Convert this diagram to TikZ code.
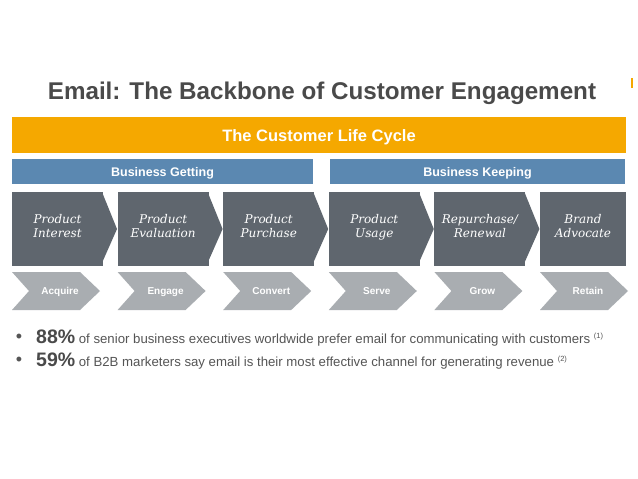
\documentclass[tikz,border=0pt]{standalone}
\usepackage{fontspec}
\setmainfont{Liberation Sans}
\newfontfamily\boxfont{DejaVu Serif}
\definecolor{cOrange}{HTML}{F5A800}
\definecolor{cBlue}{HTML}{5B88B1}
\definecolor{cDark}{HTML}{5F666E}
\definecolor{cChev}{HTML}{A9ADB1}
\definecolor{cTitle}{HTML}{4A4A4A}
\definecolor{cText}{HTML}{555555}
\tikzset{
  band/.style={fill=#1, inner sep=0pt, outer sep=0pt, text=white, font=\bfseries, text depth=0pt},
  stagebox/.style={fill=cDark, minimum height=74pt, inner sep=0pt, outer sep=0pt},
  stagetext/.style={anchor=base, inner sep=0pt, text=white, font=\boxfont\itshape\fontsize{12}{14}\selectfont},
  chevlabel/.style={text=white, font=\bfseries\fontsize{10}{12}\selectfont, inner sep=0pt, text height=7.2pt, text depth=0pt},
  bulletline/.style={anchor=base west, inner sep=0pt, text=cText, font=\fontsize{13.2}{15}\selectfont},
  bulletdot/.style={inner sep=0pt, text=cText, font=\fontsize{18}{18}\selectfont}
}
\begin{document}
\begin{tikzpicture}[x=1pt,y=-1pt]
\useasboundingbox (0,0) rectangle (638,479);
\fill[white] (0,0) rectangle (638,479);
\node[anchor=base, text=cTitle, font=\bfseries\fontsize{24.2}{28}\selectfont, inner sep=0pt] (title) at (322,99) {Email: The Backbone of Customer Engagement};
\node[fill=cOrange, minimum width=2pt, minimum height=10pt, inner sep=0pt] (mark) at (632,83) {};
\node[band=cOrange, minimum width=614pt, minimum height=36pt, text height=12pt, font=\bfseries\fontsize{16.5}{18}\selectfont] (cycle) at (319,135) {The Customer Life Cycle};
\node[band=cBlue, minimum width=301pt, minimum height=25pt, text height=9pt, font=\bfseries\fontsize{12.5}{14}\selectfont] (getting) at (162.5,171.5) {Business Getting};
\node[band=cBlue, minimum width=295pt, minimum height=25pt, text height=9pt, font=\bfseries\fontsize{12.5}{14}\selectfont] (keeping) at (477.5,171.5) {Business Keeping};
\foreach \i/\a/\b/\c/\w in {0/Product/Interest/Acquire/91,1/Product/Evaluation/Engage/91,2/Product/Purchase/Convert/91,3/Product/Usage/Serve/91,4/{Repurchase/}/Renewal/Grow/91,5/Brand/Advocate/Retain/86}{
  \pgfmathsetmacro{\L}{12+\i*105.6}
  \pgfmathsetmacro{\cx}{\L+\w/2}
  \node[stagebox, minimum width=\w pt] (s\i) at (\cx,229) {};
  \node[stagetext] (s\i a) at (\cx,223) {\a};
  \node[stagetext] (s\i b) at (\cx,237) {\b};
  \ifnum\i<5
    \fill[cDark] ([xshift=-0.6pt,yshift=-1pt]s\i.north east) -- ([xshift=14pt]s\i.east) -- ([xshift=-0.6pt,yshift=4pt]s\i.south east) -- cycle;
  \fi
  \fill[cChev] (\L,272) -- (\L+68,272) -- (\L+88,291) -- (\L+68,310) -- (\L,310) -- (\L+17,291) -- cycle;
  \node[chevlabel] (c\i) at (\L+48,291) {\c};
}
\node[bulletdot] (d1) at (19,338) {\textbullet};
\node[bulletdot] (d2) at (19,361) {\textbullet};
\node[bulletline] (b1) at (36,343) {{\color{cTitle}\bfseries\fontsize{19.5}{21}\selectfont 88\%} of senior business executives worldwide prefer email for communicating with customers \raisebox{5pt}{\fontsize{7.5}{8}\selectfont(1)}};
\node[bulletline] (b2) at (36,366) {{\color{cTitle}\bfseries\fontsize{19.5}{21}\selectfont 59\%} of B2B marketers say email is their most effective channel for generating revenue \raisebox{5pt}{\fontsize{7.5}{8}\selectfont(2)}};
\end{tikzpicture}
\end{document}
